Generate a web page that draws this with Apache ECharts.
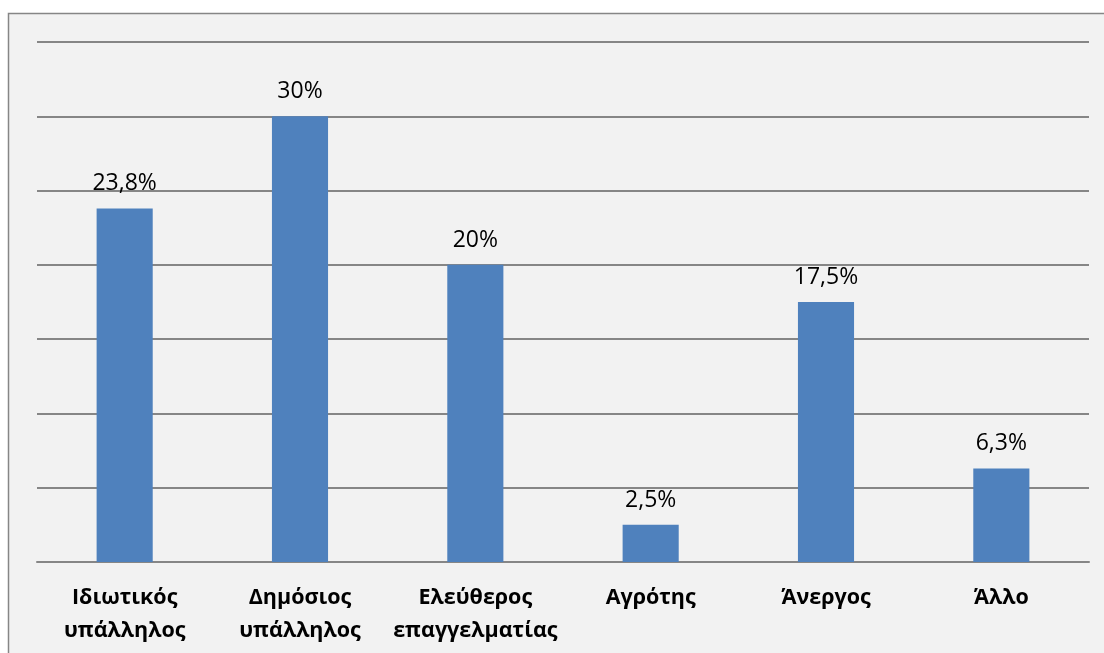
<!DOCTYPE html>
<html>
<head>
<meta charset="utf-8">
<script src="https://cdn.jsdelivr.net/npm/echarts@6/dist/echarts.min.js"></script>
<style>
html,body{margin:0;padding:0;background:#ffffff;}
#c{width:1104px;height:653px;}
</style>
</head>
<body>
<div id="c"></div>
<script>
const categories = ['Ιδιωτικός\nυπάλληλος', 'Δημόσιος\nυπάλληλος', 'Ελεύθερος\nεπαγγελματίας', 'Αγρότης', 'Άνεργος', 'Άλλο'];
const values = [23.8, 30, 20, 2.5, 17.5, 6.3];
const valueLabels = ['23,8%', '30%', '20%', '2,5%', '17,5%', '6,3%'];

const chart = echarts.init(document.getElementById('c'));
chart.setOption({
  backgroundColor: '#ffffff',
  animation: false,
  graphic: [{
    type: 'rect', z: -10, silent: true,
    shape: { x: 8.5, y: 13.5, width: 1110, height: 660 },
    style: { fill: '#f2f2f2', stroke: '#868686', lineWidth: 1.5 }
  }],
  grid: { left: 37, right: 15, top: 42, bottom: 91 },
  xAxis: {
    type: 'category',
    data: categories,
    axisTick: { show: false },
    axisLine: { show: true, lineStyle: { color: '#868686', width: 2 } },
    axisLabel: {
      interval: 0, margin: 19,
      fontFamily: 'Open Sans', fontWeight: 'bold', fontSize: 21.5,
      lineHeight: 33, color: '#000000'
    }
  },
  yAxis: {
    type: 'value', min: 0, max: 35, interval: 5,
    axisLabel: { show: false },
    axisLine: { show: false },
    axisTick: { show: false },
    splitLine: { lineStyle: { color: '#868686', width: 2 } }
  },
  series: [{
    type: 'bar',
    data: values,
    barWidth: '32%',
    itemStyle: { color: '#4f81bd' },
    label: {
      show: true, position: 'top', distance: 13,
      fontFamily: 'Open Sans', fontSize: 23, color: '#000000',
      formatter: p => valueLabels[p.dataIndex]
    }
  }]
});
</script>
</body>
</html>
